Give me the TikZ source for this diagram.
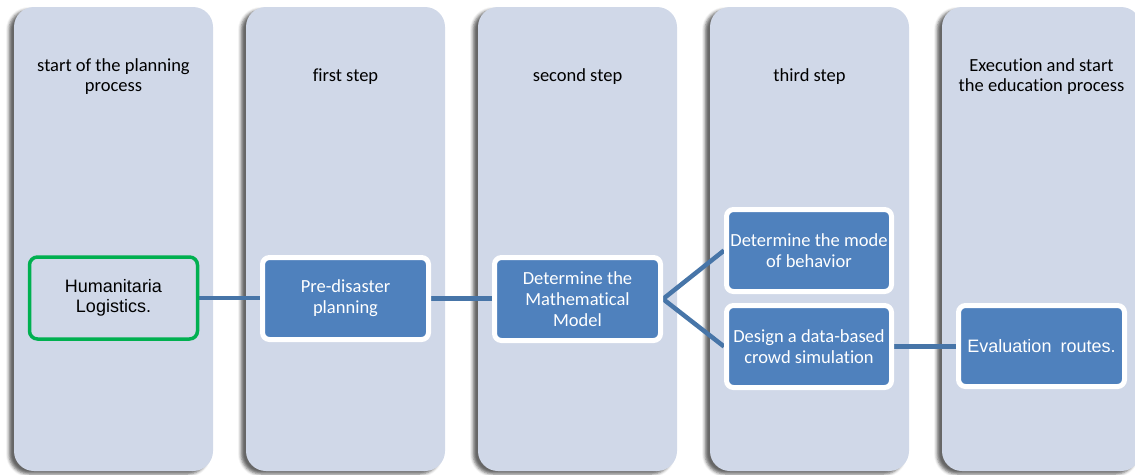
\documentclass[tikz,border=0pt]{standalone}
\usepackage{fontspec}
\setmainfont[Ligatures=NoCommon]{Carlito}
\newfontfamily\arialfont{Liberation Sans}
\usetikzlibrary{shadows.blur}
\definecolor{panelfill}{RGB}{208,216,232}
\definecolor{boxfill}{RGB}{79,129,189}
\definecolor{linkcol}{RGB}{71,117,168}
\definecolor{greenedge}{RGB}{0,176,80}
\pgfdeclarelayer{panels}
\pgfdeclarelayer{links}
\pgfsetlayers{panels,links,main}
\begin{document}
\begin{tikzpicture}[x=1pt,y=-1pt,
  panel/.style={fill=panelfill, rounded corners=20pt,
    blur shadow={shadow xshift=-5pt, shadow yshift=-3pt,
      shadow blur radius=3pt, shadow opacity=60}},
  header/.style={font=\fontsize{18.5}{20}\selectfont, align=center, text=black, inner sep=0pt},
  stepbox/.style={draw=white, line width=5pt, fill=boxfill, rounded corners=7pt,
    text=white, font=\fontsize{18.5}{21}\selectfont, align=center,
    minimum width=166pt, minimum height=82pt, inner sep=0pt},
  startbox/.style={draw=greenedge, line width=3.5pt, rounded corners=8pt,
    font=\arialfont\fontsize{18}{20}\selectfont, align=center,
    minimum width=168pt, minimum height=82pt, inner sep=0pt},
  link/.style={draw=linkcol, line width=4.5pt}]
\useasboundingbox (0,0) rectangle (1135,474);
\clip (0,0) rectangle (1135,474);

% column panels
\begin{pgfonlayer}{panels}
  \foreach \i in {0,...,4} {
    \path[panel] (14+232*\i,7) rectangle (213+232*\i,471);
  }
\end{pgfonlayer}

% column headers
\node[header] (hd1) at (113.5,77) {start of the planning\\process};
\node[header] (hd2) at (345.5,77) {first step};
\node[header] (hd3) at (577.5,77) {second step};
\node[header] (hd4) at (809.5,77) {third step};
\node[header] (hd5) at (1041.5,77) {Execution and start\\the education process};

% process boxes
\node[startbox] (hum) at (113.5,298) {Humanitaria\\Logistics.};
\node[stepbox] (pre) at (345.5,298.5) {Pre-disaster\\planning};
\node[stepbox, minimum height=83pt] (math) at (577.5,299) {Determine the\\Mathematical\\Model};
\node[stepbox, minimum width=165pt] (mode) at (809,250.5) {Determine the mode\\of behavior};
\node[stepbox, minimum width=165pt] (design) at (809,346.5) {Design a data-based\\crowd simulation};
\node[stepbox, minimum height=81pt, font=\arialfont\fontsize{18}{21}\selectfont] (eval) at (1041.5,346)
  {{\spaceskip=9pt Evaluation routes.}};

% connectors
\begin{pgfonlayer}{links}
  \draw[link] (hum.east) -- (hum.east -| pre.west);
  \draw[link] (pre.east) -- (pre.east -| math.west);
  \draw[link] (math.east) -- (mode.west);
  \draw[link] (math.east) -- (design.west);
  \draw[link] (design.east) -- (design.east -| eval.west);
\end{pgfonlayer}
\end{tikzpicture}
\end{document}
